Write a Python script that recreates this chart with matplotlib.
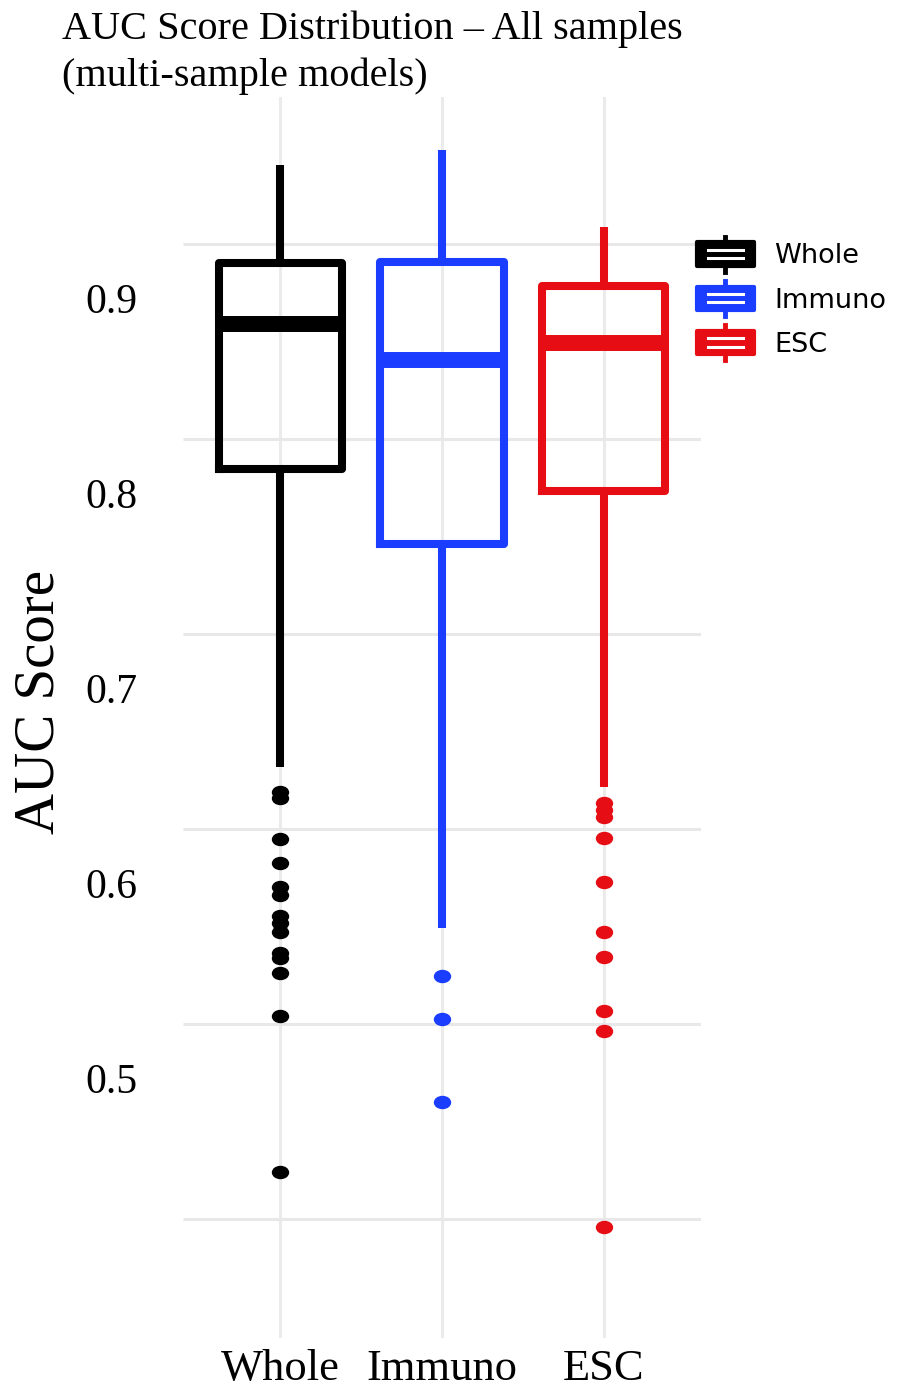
import matplotlib
matplotlib.use("Agg")
import matplotlib.pyplot as plt
from matplotlib.path import Path
from matplotlib.transforms import Affine2D, ScaledTranslation
from matplotlib.legend_handler import HandlerBase
from matplotlib.lines import Line2D
from matplotlib.patches import Rectangle

# ---------------- data ----------------
categories = ["Whole", "Immuno", "ESC"]
colors = ["#000000", "#1a3dff", "#e60d14"]

whisker_low = [0.6595, 0.5769, 0.6492]
q1 = [0.8123, 0.7738, 0.8008]
median = [0.8867, 0.8682, 0.8772]
q3 = [0.9179, 0.9185, 0.9064]
whisker_high = [0.9682, 0.9759, 0.9364]

outliers_whole = [0.6467, 0.6436, 0.6226, 0.6103, 0.5979, 0.5938, 0.5831,
                  0.5795, 0.5749, 0.5641, 0.5615, 0.5538, 0.5318, 0.4518]
outliers_immuno = [0.5523, 0.5303, 0.4877]
outliers_esc = [0.6410, 0.6374, 0.6338, 0.6231, 0.6005, 0.5749, 0.5621,
                0.5344, 0.5241, 0.4236]
outliers = [outliers_whole, outliers_immuno, outliers_esc]

ytick_values = [0.5, 0.6, 0.7, 0.8, 0.9]
ytick_labels = ["0.5", "0.6", "0.7", "0.8", "0.9"]
grid_levels = [0.4, 0.5, 0.6, 0.7, 0.8, 0.9]

title = "AUC Score Distribution \u2013 All samples\n(multi-sample models)"
ylabel = "AUC Score"

# ---------------- figure ----------------
W, H = 898, 1389
fig = plt.figure(figsize=(W / 100, H / 100), dpi=100)
ax = fig.add_axes([183 / W, 1 - 1338 / H, 518 / W, (1338 - 97) / H])

serif = ["Liberation Serif", "DejaVu Serif"]

# vertical grid lines (category positions)
positions = list(range(1, len(categories) + 1))
for p in positions:
    ax.axvline(p, color="#ebebeb", lw=2.2, zorder=0)

# horizontal grid lines (drawn shifted as in the reference)
off = ScaledTranslation(0, 0.54, fig.dpi_scale_trans)
for g in grid_levels:
    ax.plot([0, 1], [g, g], transform=ax.get_yaxis_transform() + off,
            color="#e8e8e8", lw=2.2, zorder=0, solid_capstyle="butt")

# boxplots
ellipse = Path.unit_circle().transformed(Affine2D().scale(1.33, 1.0))
for i, (cat, col) in enumerate(zip(categories, colors)):
    stats = [dict(med=median[i], q1=q1[i], q3=q3[i],
                  whislo=whisker_low[i], whishi=whisker_high[i],
                  fliers=outliers[i], label=cat)]
    ax.bxp(stats, positions=[positions[i]], widths=0.76, showcaps=False,
           patch_artist=False,
           boxprops=dict(color=col, lw=5.8, solid_joinstyle="round"),
           whiskerprops=dict(color=col, lw=5.8, solid_capstyle="butt"),
           medianprops=dict(color=col, lw=11.5, solid_capstyle="butt"),
           flierprops=dict(marker=ellipse, markersize=11.5,
                           markerfacecolor=col, markeredgecolor=col,
                           linestyle="none"))

ax.set_xlim(0.4, 3.6)
ax.set_ylim(0.3667, 1.0031)
ax.set_xticks(positions)
ax.set_xticklabels(categories, fontsize=32, family=serif)
ax.set_yticks(ytick_values)
ax.set_yticklabels(ytick_labels, fontsize=30, family=serif)
ax.tick_params(axis="both", length=0)
ax.tick_params(axis="y", pad=33)
ax.tick_params(axis="x", pad=8)
for s in ax.spines.values():
    s.set_visible(False)
ax.set_facecolor("white")

fig.text(62 / W, 1 - 11 / H, title, fontsize=29, family=serif,
         va="top", ha="left", linespacing=1.33)
fig.text(40 / W, 1 - 702 / H, ylabel, fontsize=41, family=serif,
         rotation=90, va="center", ha="center")


# legend with boxplot glyphs
class BoxKey(HandlerBase):
    def create_artists(self, legend, orig_handle, xdescent, ydescent,
                       width, height, fontsize, trans):
        col = orig_handle.get_color()
        x0, y0 = -xdescent, -ydescent
        cx = x0 + width / 2
        whisk = Line2D([cx, cx], [y0 - height * 0.22, y0 + height * 1.22],
                       color=col, lw=3.5, transform=trans)
        rect = Rectangle((x0, y0 + height * 0.02), width, height * 0.96,
                         facecolor=col, edgecolor=col, lw=3,
                         joinstyle="round", transform=trans)
        l1 = Line2D([x0 + width * 0.2, x0 + width * 0.8],
                    [y0 + height * 0.33, y0 + height * 0.33],
                    color="white", lw=2.2, transform=trans)
        l2 = Line2D([x0 + width * 0.2, x0 + width * 0.8],
                    [y0 + height * 0.67, y0 + height * 0.67],
                    color="white", lw=2.2, transform=trans)
        return [whisk, rect, l1, l2]


handles = [Line2D([], [], color=c) for c in colors]
fig.legend(handles, categories, handler_map={Line2D: BoxKey()},
           loc="upper left", bbox_to_anchor=(697 / W, 1 - 242 / H),
           frameon=False, handlelength=2.1, handleheight=1.0,
           handletextpad=0.75, labelspacing=0.62, borderpad=0, borderaxespad=0,
           prop=dict(family="DejaVu Sans", size=19.5))

fig.savefig("out.png", dpi=100, facecolor="white")
